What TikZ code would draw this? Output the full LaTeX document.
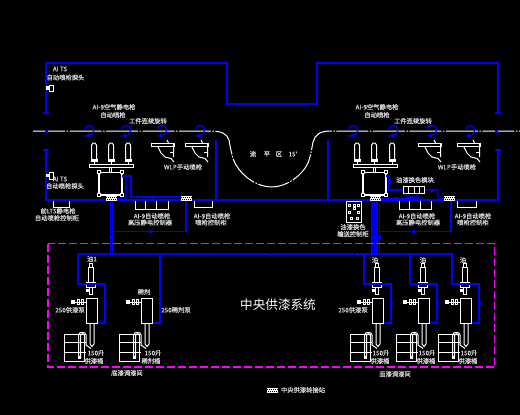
\documentclass[tikz,border=0pt]{standalone}
\usepackage{fontspec}
\setmainfont{Noto Sans CJK SC}
\newfontfamily\labfont[FakeBold=0.5]{Noto Sans CJK SC}
\definecolor{wire}{RGB}{0,0,255}
\definecolor{gline}{RGB}{255,0,255}
\newcounter{lblc}
\newcommand{\lbl}[3]{\stepcounter{lblc}\node[lab] (lbl\arabic{lblc}) at (#1,#2) {#3};}
\newcommand{\dotsq}[2]{\stepcounter{lblc}\node[sq] (sq\arabic{lblc}) at (#1,#2) {};}
% transfer station: centre x,y, name
\newcommand{\station}[3]{%
  \node[stn] (#3) at (#1,#2) {};
  \begin{scope}[shift={(#3.north west)}]
    \foreach \i in {0,2,4,6,8,10}{\fill[black] (\i+0.3,1) rectangle (\i+1.1,2);\fill[black] (\i+1.2,3) rectangle (\i+2,4);}
  \end{scope}}
\newcommand{\spray}[1]{%
  \begin{scope}[shift={(#1,130)}]
    \draw[bl] (-4.5,-1) .. controls (-3,-5.8) and (4.7,-5.8) .. (4.7,0) .. controls (4.7,3) and (3,5) .. (1,5.7) -- (-5,6);
    \fill[wire] (-2.5,4.4) rectangle (0,7);
  \end{scope}}
\newcommand{\hgun}[1]{%
  \begin{scope}[shift={(#1,143)}]
    \draw[wh] (0,0.5) rectangle (23,3.8);
    \draw[wh] (16,-3) -- (17.5,0) (22.5,0) -- (22.5,14);
    \draw[wh] (7,4) -- (10,10) -- (14,14) -- (20,15.5) -- (23,19);
    \draw[wh] (19,9) -- (22.5,9);
  \end{scope}}
\newcommand{\capsule}[1]{%
  \draw[wh] (#1-2.5,159) -- (#1-2.5,145) -- (#1-1,143) -- (#1+1,143) -- (#1+2.5,145) -- (#1+2.5,159);
  \draw[wh,fill=white] (#1-3,159.5) rectangle (#1+3,161.5);
  \draw[wh] (#1,161.5) -- (#1,164.5);}
\newcommand{\mainbox}[1]{%
  \begin{scope}[shift={(#1,0)}]
    \draw[wh,line width=1.4pt] (0,172.5) rectangle (23,195);
    \foreach \p/\q in {0/172,23/172,0/195,23/195}{\draw[wh,fill=black] (\p-1.5,\q-1.5) rectangle (\p+1.5,\q+1.5);}
    \draw[wh] (-10,164.5) rectangle (34,167);
    \draw[wh] (10.5,167) -- (10.5,172) (12.5,167) -- (12.5,172);
  \end{scope}}
% pump, barrel etc. placed by x offset
\newcommand{\pumplow}[1]{%
  \begin{scope}[shift={(#1,0)}]
    \draw[wh,fill=black] (86.3,298.5) rectangle (97.7,323);
    \fill[white] (71,300) rectangle (75,304);
    \draw[wh] (75,302) -- (86,302);
    \draw[wh] (77,299.5) rectangle (79.5,304.5) (81,299.5) rectangle (83.5,304.5);
    \draw[wh] (90,323) -- (90,344) -- (92,346.5) -- (94,344) -- (94,323);
    \draw[wh] (64.5,334.5) rectangle (84,361.5);
    \draw[wh] (64,342.5) -- (85.5,342.5) (64,352.5) -- (85.5,352.5);
    \draw[wh] (78.5,358) -- (78.5,335) .. controls (78.5,331.5) and (86,331.5) .. (86,335) -- (86,345) -- (91,348.5);
    \draw[wh] (80.5,358) -- (80.5,336) .. controls (80.5,333) and (84.5,333) .. (84.5,336) -- (84.5,346);
    \fill[white] (78,355.5) rectangle (81,359);
  \end{scope}}
\newcommand{\pumpup}[1]{%
  \begin{scope}[shift={(#1,0)}]
    \draw[wh] (88.3,267.5) rectangle (93,282.5);
    \draw[wh,fill=black] (89.5,263) rectangle (92,267);
    \draw[wh] (86.3,282.5) rectangle (95.7,287);
    \draw[wh] (86.3,284.8) -- (95.7,284.8);
    \draw[wh] (89.5,287) rectangle (92.5,294);
    \fill[white] (86.3,288.5) rectangle (88.5,291.5);
    \draw[bl] (78,254) -- (78,284) -- (105,284) -- (105,323) -- (98,323);
    \fill[wire] (77,266.5) rectangle (79,270);
    \dotsq{105}{303}
  \end{scope}}
\tikzset{
  lab/.style={text=white!82!black,font=\labfont\fontsize{6.3}{7}\selectfont,inner sep=0pt,outer sep=0pt},
  bl/.style={draw=wire,line width=1.2pt},
  wh/.style={draw=white,line width=1pt},
  sq/.style={fill=wire,draw=none,minimum size=3pt,inner sep=0pt},
  stn/.style={fill=white,draw=none,minimum width=11pt,minimum height=5pt,inner sep=0pt,outer sep=0pt},
}
\begin{document}
\begin{tikzpicture}[x=1pt,y=-1pt]
\useasboundingbox (0,0) rectangle (520,415);
\fill[black] (0,0) rectangle (520,415);

% booth outline
\draw[bl] (43,113) -- (49,113) (46,113) -- (46,63) -- (227,63) -- (227,104) -- (317,104) -- (317,63) -- (498,63) -- (498,113) (495,113) -- (501,113);
\draw[bl] (43,150) -- (49,150) (46,150) -- (46,200) -- (498,200) -- (498,150) (495,150) -- (501,150);
\draw[bl] (216,140) -- (216,200) (328,140) -- (328,200);

% conveyor
\draw[draw=white,line width=1pt,dash pattern=on 32pt off 1.5pt on 1.5pt off 1.5pt]
  (33,131) -- (210,131) .. controls (222,131) and (227,134) .. (229,140)
  .. controls (231,152) and (233,160) .. (236,165)
  .. controls (244,178) and (258,187) .. (272,187)
  .. controls (286,187) and (302,176) .. (308,163)
  .. controls (311,155) and (312,147) .. (313,142)
  .. controls (315,135) and (320,131) .. (330,131) -- (520,131);
\dotsq{46}{131}
\dotsq{496}{131}
\foreach \x in {89,126,162,200,353,393,432,470}{\spray{\x}}

% probes
\fill[white] (46,86) rectangle (49,89.5);\draw[wh] (49.5,85) rectangle (53,91);
\fill[white] (46,174) rectangle (49,177);\draw[wh] (49.5,172.5) rectangle (53,179);

% hand guns
\foreach \x in {151,185,418,457}{\hgun{\x}}

% robots, left and right
\foreach \x in {94,111,128,357,374,392}{\capsule{\x}}
\mainbox{99}
\mainbox{363}

% stations
\station{111.5}{198.5}{stA}
\station{186}{198.5}{stB}
\station{375}{198.5}{stC}
\station{449.5}{198.5}{stD}

% wiring, left
\draw[bl] (122,176) -- (131,176) -- (131,197) -- (stB.west |- 0,197);
\draw[bl] (122,177) -- (126,177) -- (126,198) -- (stA.east);
\fill[wire] (125,185.5) rectangle (127,189);
\dotsq{152}{198}
\coordinate (busA) at (112,231.5);
\draw[bl] (stB.south) -- (stB.south |- busA) -- (busA);
\dotsq{150}{231.5}
\draw[bl] (110.5,201) -- (110.5,254) (112.5,201) -- (112.5,254);
\fill[wire] (109.5,235.5) rectangle (113.5,239);

% wiring, right
\draw[bl] (386,176) -- (389,176) -- (389,190) -- (403,190);
\fill[wire] (389,179) rectangle (391,183);
\node[draw=white,line width=1pt,minimum width=21pt,minimum height=7pt,inner sep=0pt] (mod) at (414,190) {};
\foreach \x in {408.5,414,419.5}{\draw[wh] (\x,186.5) -- (\x,193.5);}
\foreach \x in {405.5,411,416.5,422}{\fill[white] (\x-1.5,185.5) rectangle (\x+1.5,187);}
\draw[bl] (mod.east) -- (438,190) -- (438,198) -- (stD.west);
\dotsq{432}{190}
\draw[bl] (stC.east) -- (423,198) (406,193.5) -- (406,197) (417,193.5) -- (417,197) (406,197) -- (417,197);
\dotsq{395.5}{198}
\coordinate (busB) at (379,231.5);
\draw[bl] (451,201) -- (451,231.5) -- (busB);
\dotsq{413}{231.5}
\foreach \x in {372,374.5,377,379.5}{\draw[bl] (\x,201) -- (\x,254);}
\fill[wire] (370.5,235.5) rectangle (381,239);

% brackets
\draw[wh] (53,200.5) -- (53,207) -- (69,207) -- (69,200.5);
\draw[wh] (135,200.5) -- (135,209) -- (168,209) -- (168,200.5) (145,200.5) -- (145,209) (156,200.5) -- (156,209);
\draw[wh] (194,200.5) -- (194,207) -- (212,207) -- (212,200.5);
\draw[wh] (399,200.5) -- (399,209) -- (431,209) -- (431,200.5) (409,200.5) -- (409,209) (420,200.5) -- (420,209);
\draw[wh] (457,200.5) -- (457,207) -- (476,207) -- (476,200.5);

% colour-change cabinet
\node[draw=white,line width=1pt,fill=black,minimum width=15pt,minimum height=21pt,inner sep=0pt] (cab) at (354,211.5) {};
\foreach \x/\y in {349.5/205,358.5/205,354/205,349.5/212,358.5/212,351/218,357/218,354/208}{\draw[draw=white,line width=0.8pt] (\x-1,\y-1) rectangle (\x+1,\y+1);}

% central supply
\draw[draw=gline,line width=1.1pt,dash pattern=on 8pt off 3pt] (48,243.7) rectangle (494.7,367);
\draw[bl] (78,254) -- (453,254);
\dotsq{270}{254}
\dotsq{357}{254}
\pumpup{0}
\pumpup{286}
\pumpup{332}
\pumpup{374}
\foreach \o in {0,55,286,332,374}{\pumplow{\o}}
\draw[bl] (160,254) -- (160,323) -- (153,323);
\fill[wire] (159,284.5) rectangle (161,290);

% legend
\station{272.5}{390}{stE}

% labels
\lbl{60}{69}{AI TS}
\lbl{65.5}{77.5}{自动喷枪探头}
\lbl{114}{107}{AI-9空气静电枪}
\lbl{113}{115}{自动喷枪}
\lbl{148}{121}{工件连续旋转}
\lbl{183}{167}{WLP手动喷枪}
\lbl{60}{179}{AI TS}
\lbl{65}{186}{自动喷枪探头}
\lbl{58}{211}{前LTS静电枪}
\lbl{57}{218}{自动喷枪控制柜}
\lbl{152}{216}{AI-9自动喷枪}
\lbl{150}{222.5}{高压静电控制器}
\lbl{212}{216}{AI-9自动喷枪}
\lbl{211}{222.5}{喷枪控制柜}
\lbl{377}{107}{AI-9空气静电枪}
\lbl{377}{115}{自动喷枪}
\lbl{413}{121}{工件连续旋转}
\lbl{457}{167}{WLP手动喷枪}
\lbl{415}{180}{油漆换色模块}
\lbl{417}{216}{AI-9自动喷枪}
\lbl{418}{222.5}{高压静电控制器}
\lbl{473}{216}{AI-9自动喷枪}
\lbl{473}{222.5}{喷枪控制柜}
\lbl{353}{227}{油漆换色}
\lbl{353}{234}{输送控制柜}
\lbl{253}{154}{流}
\lbl{267}{154}{平}
\lbl{279}{154}{区}
\lbl{293}{154}{15'}
\node[text=white,font=\fontsize{12.6}{14}\selectfont,inner sep=0pt] (title) at (278,305) {中央供漆系统};
\lbl{92}{259}{油1}
\lbl{144}{292}{稀剂}
\lbl{70}{310}{250供漆泵}
\lbl{176}{310}{250稀剂泵}
\lbl{96}{353}{150升}
\lbl{94}{361}{供漆桶}
\lbl{153}{353}{150升}
\lbl{151}{361}{稀剂桶}
\lbl{127}{373}{底漆调漆间}
\lbl{375}{260}{油}
\lbl{423}{260}{油}
\lbl{463}{260}{油}
\lbl{353}{310}{250供漆泵}
\lbl{381}{353}{150升}
\lbl{380}{361}{供漆桶}
\lbl{427}{353}{150升}
\lbl{426}{361}{供漆桶}
\lbl{469}{353}{150升}
\lbl{468}{361}{供漆桶}
\lbl{395}{374}{面漆调漆间}
\lbl{303}{390}{中央供漆转接站}
\end{tikzpicture}
\end{document}
